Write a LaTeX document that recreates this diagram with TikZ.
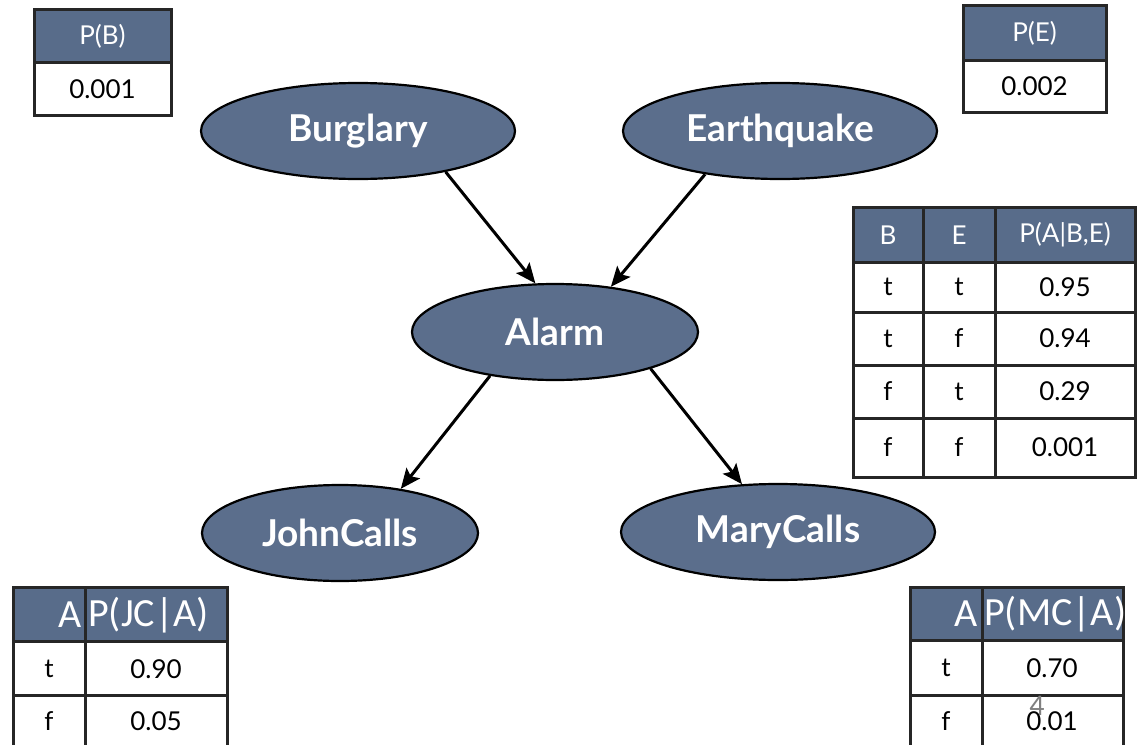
\documentclass[tikz,border=0pt]{standalone}
\usepackage{fontspec}
\setmainfont{Lato}
\newfontfamily\calibri{Carlito}
\usetikzlibrary{arrows.meta,shapes.geometric}
\definecolor{nodeblue}{RGB}{91,110,140}
\definecolor{hdrblue}{RGB}{88,108,138}
\begin{document}
\begin{tikzpicture}[x=1pt,y=-1pt,
  bnode/.style={ellipse, fill=nodeblue, draw=black, line width=2.2pt, inner sep=0pt,
    text=white, font=\fontsize{37}{40}\selectfont\bfseries},
  arr/.style={line width=3pt, -{Stealth[length=20pt,width=17pt,inset=4pt]}},
  cell/.style={font=\fontsize{26}{30}\selectfont, text=black, inner sep=0pt, anchor=center},
  hcell/.style={cell, text=white},
  chead/.style={font=\calibri\fontsize{40}{44}\selectfont, text=white, inner sep=0pt},
  tline/.style={line width=3pt, draw=black!85},
  hfill/.style={fill=hdrblue},
]
\useasboundingbox (0,0) rectangle (1137,744);
\fill[white] (0,0) rectangle (1137,744);

% ---------- network nodes ----------
\node[bnode, minimum width=314pt, minimum height=96pt] (burglary) at (358,131) {Burglary};
\node[bnode, minimum width=314pt, minimum height=96pt] (earthquake) at (780,131) {Earthquake};
\node[bnode, minimum width=286pt, minimum height=96pt] (alarm) at (555,332) {Alarm};
\node[bnode, minimum width=276pt, minimum height=96pt] (john) at (340,533) {JohnCalls};
\node[bnode, minimum width=314pt, minimum height=96pt] (mary) at (778,532) {MaryCalls};

\draw[arr] (burglary.-25) -- (alarm.112);
\draw[arr] (earthquake.210) -- (alarm.39);
\draw[arr] (alarm.214) -- (john.36);
\draw[arr] (alarm.-21) -- (mary.127);

% ---------- P(B) ----------
\fill[hfill] (34,9) rectangle (171,62);
\draw[tline] (34,9) rectangle (171,115);
\draw[tline] (34,62) -- (171,62);
\node[hcell] (pbh) at (102.5,36) {P(B)};
\node[cell] (pbv) at (102.5,89) {0.001};

% ---------- P(E) ----------
\fill[hfill] (963,5) rectangle (1106,60);
\draw[tline] (963,5) rectangle (1106,112);
\draw[tline] (963,60) -- (1106,60);
\node[hcell] (peh) at (1034.5,33) {P(E)};
\node[cell] (pev) at (1034.5,86) {0.002};

% ---------- P(A|B,E) ----------
\fill[hfill] (853,207) rectangle (1135,262);
\draw[tline] (853,207) rectangle (1135,477);
\foreach \yy in {262,312,365,418} \draw[tline] (853,\yy) -- (1135,\yy);
\foreach \xx in {923,995} \draw[tline] (\xx,207) -- (\xx,477);
\node[hcell] (ah1) at (888,235) {B};
\node[hcell] (ah2) at (959,235) {E};
\node[hcell] (ah3) at (1065,235) {P(A|B,E)};
\node[cell] (a11) at (888,287) {t};
\node[cell] (a12) at (959,287) {t};
\node[cell] (a13) at (1065,287) {0.95};
\node[cell] (a21) at (888,338.5) {t};
\node[cell] (a22) at (959,338.5) {f};
\node[cell] (a23) at (1065,338.5) {0.94};
\node[cell] (a31) at (888,391.5) {f};
\node[cell] (a32) at (959,391.5) {t};
\node[cell] (a33) at (1065,391.5) {0.29};
\node[cell] (a41) at (888,447.5) {f};
\node[cell] (a42) at (959,447.5) {f};
\node[cell] (a43) at (1065,447.5) {0.001};

% ---------- P(JC|A) ----------
\fill[hfill] (13,587) rectangle (227,641);
\fill[white] (13,641) rectangle (227,760);
\draw[tline] (13,587) rectangle (227,760);
\foreach \yy in {641,695} \draw[tline] (13,\yy) -- (227,\yy);
\draw[tline] (85,587) -- (85,760);
\node[chead, anchor=east] (jh1) at (82,615) {A};
\node[chead, anchor=west] (jh2) at (88,615) {P(JC|A)};
\node[cell] (j11) at (49,669) {t};
\node[cell] (j12) at (156,669) {0.90};
\node[cell] (j21) at (49,721) {f};
\node[cell] (j22) at (156,721) {0.05};

% ---------- P(MC|A) ----------
\fill[hfill] (910,587) rectangle (1123,640);
\fill[white] (910,640) rectangle (1123,760);
\draw[tline] (910,587) rectangle (1123,760);
\foreach \yy in {640,695} \draw[tline] (910,\yy) -- (1123,\yy);
\draw[tline] (982,587) -- (982,760);
\node[chead, anchor=east] (mh1) at (978,614) {A};
\node[chead, anchor=west] (mh2) at (984,614) {P(MC|A)};
\node[cell] (m11) at (946,668) {t};
\node[cell] (m12) at (1052,668) {0.70};
\node[cell] (m21) at (946,721) {f};
\node[cell] (m22) at (1052,721) {0.01};

% page number
\node[font=\calibri\fontsize{30}{32}\selectfont, text=gray, inner sep=0pt] (pagenum) at (1037,706) {4};
\end{tikzpicture}
\end{document}
